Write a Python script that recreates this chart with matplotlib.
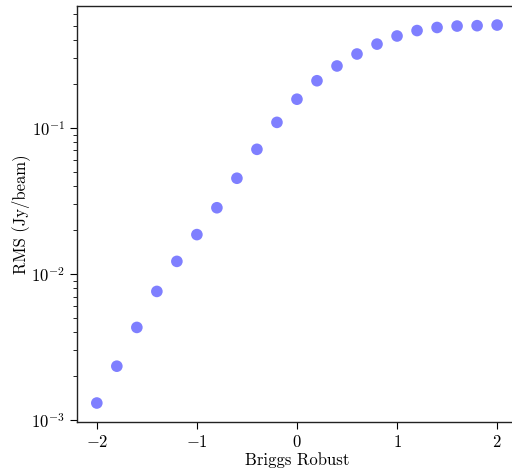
import numpy as np
import matplotlib
matplotlib.use('Agg')
import matplotlib.pyplot as plt

plt.rcParams['font.family'] = 'serif'
plt.rcParams['font.serif'] = ['cmr10']
plt.rcParams['mathtext.fontset'] = 'cm'
plt.rcParams['axes.formatter.use_mathtext'] = True
plt.rcParams['axes.unicode_minus'] = True

# Briggs robust parameter vs image noise
robust = [-2.0, -1.8, -1.6, -1.4, -1.2, -1.0, -0.8, -0.6, -0.4, -0.2, 0.0,
          0.2, 0.4, 0.6, 0.8, 1.0, 1.2, 1.4, 1.6, 1.8, 2.0]
rms = [0.00131, 0.00234, 0.00431, 0.0076, 0.0122, 0.0186, 0.0284, 0.0452,
       0.0713, 0.109, 0.157, 0.21, 0.265, 0.32, 0.374, 0.425, 0.463,
       0.486, 0.497, 0.50, 0.505]

fig = plt.figure(figsize=(5.12, 4.73), dpi=100)
ax = fig.add_axes([0.150, 0.108, 0.86, 0.879])

ax.scatter(robust, rms, s=70, color='blue', alpha=0.5, edgecolors='none')
ax.set_yscale('log')
ax.set_xticks([-2, -1, 0, 1, 2])

ax.set_xlabel('Briggs Robust', fontsize=12, labelpad=2)
ax.set_ylabel('RMS (Jy/beam)', fontsize=12, labelpad=1)
ax.tick_params(axis='both', which='major', labelsize=12, length=5, direction='out')
ax.tick_params(axis='y', which='minor', length=3)
for sp in ax.spines.values():
    sp.set_linewidth(1.0)
    sp.set_color('#222222')

fig.savefig('out.png', dpi=100)
